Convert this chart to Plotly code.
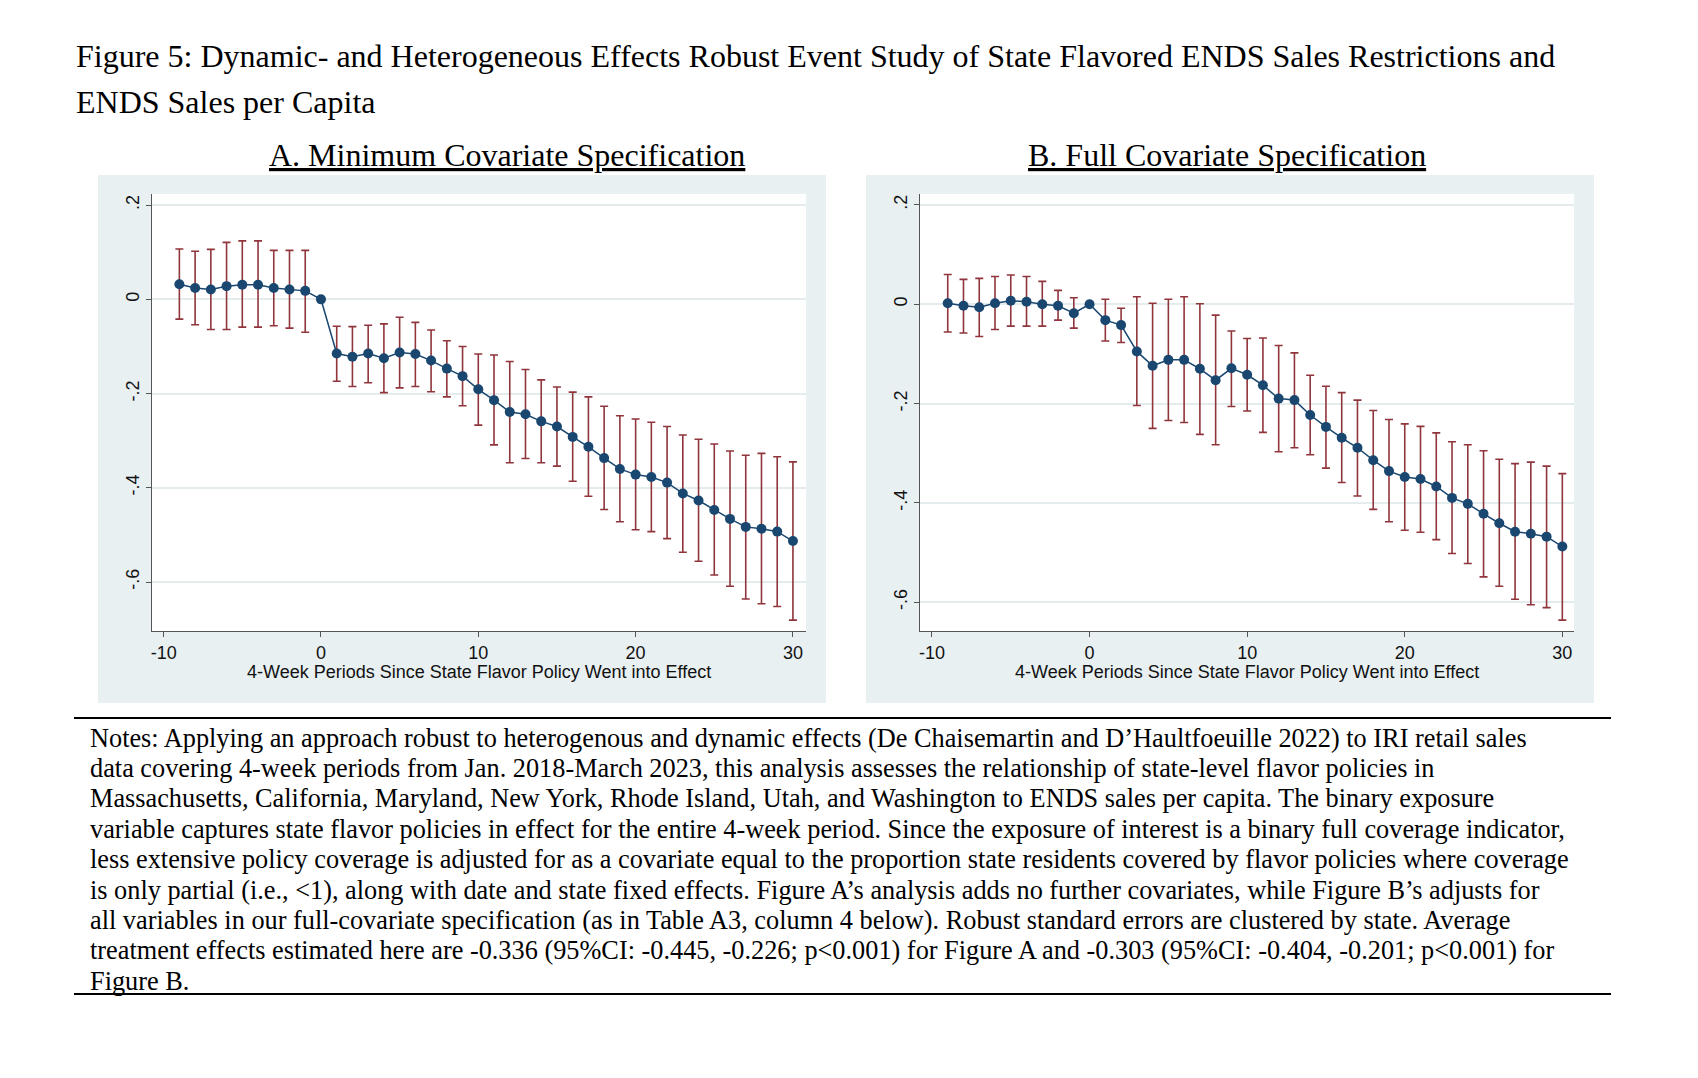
import plotly.graph_objects as go

W, H = 1698, 1078

# ---------------- data ----------------
periods = list(range(-9, 31))

a_coef = [0.032, 0.024, 0.021, 0.028, 0.031, 0.031, 0.024, 0.021, 0.018, 0.0,
          -0.115, -0.122, -0.115, -0.125, -0.113, -0.116, -0.130, -0.147, -0.163, -0.191,
          -0.214, -0.239, -0.244, -0.259, -0.270, -0.292, -0.313, -0.337, -0.360, -0.372,
          -0.377, -0.389, -0.412, -0.427, -0.447, -0.466, -0.483, -0.487, -0.493, -0.513]
a_low = [-0.042, -0.054, -0.064, -0.064, -0.059, -0.059, -0.056, -0.061, -0.070, 0.0,
         -0.174, -0.185, -0.177, -0.198, -0.188, -0.185, -0.196, -0.207, -0.226, -0.267,
         -0.309, -0.347, -0.338, -0.347, -0.354, -0.386, -0.418, -0.446, -0.472, -0.489,
         -0.493, -0.508, -0.537, -0.556, -0.585, -0.609, -0.636, -0.646, -0.652, -0.681]
a_high = [0.107, 0.102, 0.106, 0.121, 0.124, 0.124, 0.104, 0.104, 0.104, 0.0,
          -0.057, -0.058, -0.055, -0.052, -0.038, -0.049, -0.065, -0.088, -0.100, -0.116,
          -0.118, -0.132, -0.149, -0.171, -0.186, -0.197, -0.207, -0.227, -0.247, -0.254,
          -0.261, -0.270, -0.288, -0.297, -0.307, -0.322, -0.331, -0.327, -0.334, -0.345]

b_coef = [0.002, -0.003, -0.006, 0.002, 0.007, 0.005, 0.000, -0.003, -0.018, 0.0,
          -0.032, -0.042, -0.095, -0.124, -0.112, -0.112, -0.130, -0.153, -0.129, -0.142,
          -0.163, -0.190, -0.193, -0.223, -0.247, -0.269, -0.289, -0.314, -0.336, -0.348,
          -0.352, -0.367, -0.390, -0.402, -0.422, -0.441, -0.458, -0.462, -0.468, -0.488]
b_low = [-0.056, -0.058, -0.065, -0.051, -0.044, -0.044, -0.044, -0.032, -0.048, 0.0,
         -0.074, -0.077, -0.204, -0.250, -0.234, -0.238, -0.262, -0.283, -0.206, -0.215,
         -0.258, -0.297, -0.289, -0.303, -0.330, -0.359, -0.386, -0.413, -0.438, -0.455,
         -0.459, -0.474, -0.502, -0.522, -0.549, -0.568, -0.594, -0.605, -0.611, -0.636]
b_high = [0.060, 0.050, 0.052, 0.056, 0.059, 0.056, 0.046, 0.028, 0.013, 0.0,
          0.010, -0.008, 0.015, 0.002, 0.010, 0.015, 0.001, -0.022, -0.054, -0.069,
          -0.068, -0.083, -0.098, -0.143, -0.165, -0.178, -0.193, -0.214, -0.232, -0.241,
          -0.246, -0.259, -0.277, -0.283, -0.295, -0.312, -0.321, -0.318, -0.326, -0.341]

x_ticks = [-10, 0, 10, 20, 30]
x_ticktext = ["-10", "0", "10", "20", "30"]
y_ticks = [-0.6, -0.4, -0.2, 0, 0.2]
y_ticktext = ["-.6", "-.4", "-.2", "0", ".2"]

title_lines = [
    "Figure 5: Dynamic- and Heterogeneous Effects Robust Event Study of State Flavored ENDS Sales Restrictions and",
    "ENDS Sales per Capita",
]
panel_titles = ["A. Minimum Covariate Specification", "B. Full Covariate Specification"]
x_title = "4-Week Periods Since State Flavor Policy Went into Effect"
notes_lines = [
    "Notes: Applying an approach robust to heterogenous and dynamic effects (De Chaisemartin and D’Haultfoeuille 2022) to IRI retail sales",
    "data covering 4-week periods from Jan. 2018-March 2023, this analysis assesses the relationship of state-level flavor policies in",
    "Massachusetts, California, Maryland, New York, Rhode Island, Utah, and Washington to ENDS sales per capita. The binary exposure",
    "variable captures state flavor policies in effect for the entire 4-week period. Since the exposure of interest is a binary full coverage indicator,",
    "less extensive policy coverage is adjusted for as a covariate equal to the proportion state residents covered by flavor policies where coverage",
    "is only partial (i.e., &lt;1), along with date and state fixed effects. Figure A’s analysis adds no further covariates, while Figure B’s adjusts for",
    "all variables in our full-covariate specification (as in Table A3, column 4 below). Robust standard errors are clustered by state. Average",
    "treatment effects estimated here are -0.336 (95%CI: -0.445, -0.226; p&lt;0.001) for Figure A and -0.303 (95%CI: -0.404, -0.201; p&lt;0.001) for",
    "Figure B.",
]

# ---------------- styling ----------------
NAVY = "#1a476f"
MAROON = "#90353b"
BG = "#e8f0f2"
GRID = "#e4ecee"
AXC = "#555555"
SERIF = "Liberation Serif, Times New Roman, serif"
SANS = "Liberation Sans, Arial, Helvetica, sans-serif"


def px(x):
    return x / W


def py(y):
    return 1 - y / H


fig = go.Figure()


def add_panel(coef, low, high, xa, ya):
    plus = [h - c for h, c in zip(high, coef)]
    minus = [c - l for c, l in zip(coef, low)]
    fig.add_trace(go.Scatter(
        x=periods, y=coef, mode="lines+markers",
        xaxis=xa, yaxis=ya,
        line=dict(color=NAVY, width=1.5),
        marker=dict(color=NAVY, size=10),
        error_y=dict(type="data", symmetric=False, array=plus, arrayminus=minus,
                     color=MAROON, thickness=1.6, width=4),
        showlegend=False, hoverinfo="skip",
    ))


add_panel(a_coef, a_low, a_high, "x", "y")
add_panel(b_coef, b_low, b_high, "x2", "y2")

# plot-area positions (pixels)
pa = dict(l=152, r=806, t=194, b=631)
pb = dict(l=920, r=1574, t=194, b=631)

common_x = dict(tickvals=x_ticks, ticktext=x_ticktext, showgrid=False, zeroline=False,
                showline=True, linecolor=AXC, linewidth=1, ticks="outside", ticklen=5,
                tickcolor=AXC, tickfont=dict(family=SANS, size=18, color="#111"))
common_y = dict(tickvals=y_ticks, ticktext=y_ticktext, showgrid=True, gridcolor=GRID, gridwidth=1.5,
                zeroline=False, showline=True, linecolor=AXC, linewidth=1, ticks="outside",
                ticklen=5, tickcolor=AXC, tickangle=-90,
                tickfont=dict(family=SANS, size=18, color="#111"))

fig.update_layout(
    width=W, height=H,
    margin=dict(l=0, r=0, t=0, b=0),
    paper_bgcolor="white", plot_bgcolor="white",
    xaxis=dict(domain=[px(pa["l"]), px(pa["r"])], range=[-10.74, 30.83], anchor="y", **common_x),
    yaxis=dict(domain=[py(pa["b"]), py(pa["t"])], range=[-0.704, 0.2236], anchor="x", **common_y),
    xaxis2=dict(domain=[px(pb["l"]), px(pb["r"])], range=[-10.76, 30.74], anchor="y2", **common_x),
    yaxis2=dict(domain=[py(pb["b"]), py(pb["t"])], range=[-0.658, 0.222], anchor="x2", **common_y),
)

shapes = []
# light bluish graph regions
for (x0, x1) in [(98, 826), (866, 1594)]:
    shapes.append(dict(type="rect", xref="paper", yref="paper", x0=px(x0), x1=px(x1),
                       y0=py(703), y1=py(175), fillcolor=BG, line=dict(width=0), layer="below"))
# white plot regions
for p in (pa, pb):
    shapes.append(dict(type="rect", xref="paper", yref="paper", x0=px(p["l"]), x1=px(p["r"]),
                       y0=py(p["b"]), y1=py(p["t"]), fillcolor="white", line=dict(width=0),
                       layer="below"))
# rules around notes
for yy in [718, 994]:
    shapes.append(dict(type="line", xref="paper", yref="paper", x0=px(74), x1=px(1611),
                       y0=py(yy), y1=py(yy), line=dict(color="black", width=2)))
fig.update_layout(shapes=shapes)

ann = []
# main title
for i, t in enumerate(title_lines):
    ann.append(dict(text=t, x=px(74), y=py([56, 102][i]), xref="paper", yref="paper",
                    xanchor="left", yanchor="middle", showarrow=False,
                    font=dict(family=SERIF, size=32, color="black")))
# panel titles
for t, cx in zip(panel_titles, [507, 1227]):
    ann.append(dict(text="<u>" + t + "</u>", x=px(cx), y=py(155), xref="paper", yref="paper",
                    xanchor="center", yanchor="middle", showarrow=False,
                    font=dict(family=SERIF, size=32, color="black")))
# x axis titles
for cx in [479, 1247]:
    ann.append(dict(text=x_title, x=px(cx), y=py(672), xref="paper", yref="paper",
                    xanchor="center", yanchor="middle", showarrow=False,
                    font=dict(family=SANS, size=18, color="#111")))
# notes
for i, t in enumerate(notes_lines):
    ann.append(dict(text=t, x=px(88), y=py(738 + 30.4 * i), xref="paper", yref="paper",
                    xanchor="left", yanchor="middle", showarrow=False,
                    font=dict(family=SERIF, size=26.3, color="black")))
fig.update_layout(annotations=ann)

fig.write_html("out.html", config={"displayModeBar": False},
               post_script="document.body.style.margin='0';document.body.style.overflow='hidden';")
